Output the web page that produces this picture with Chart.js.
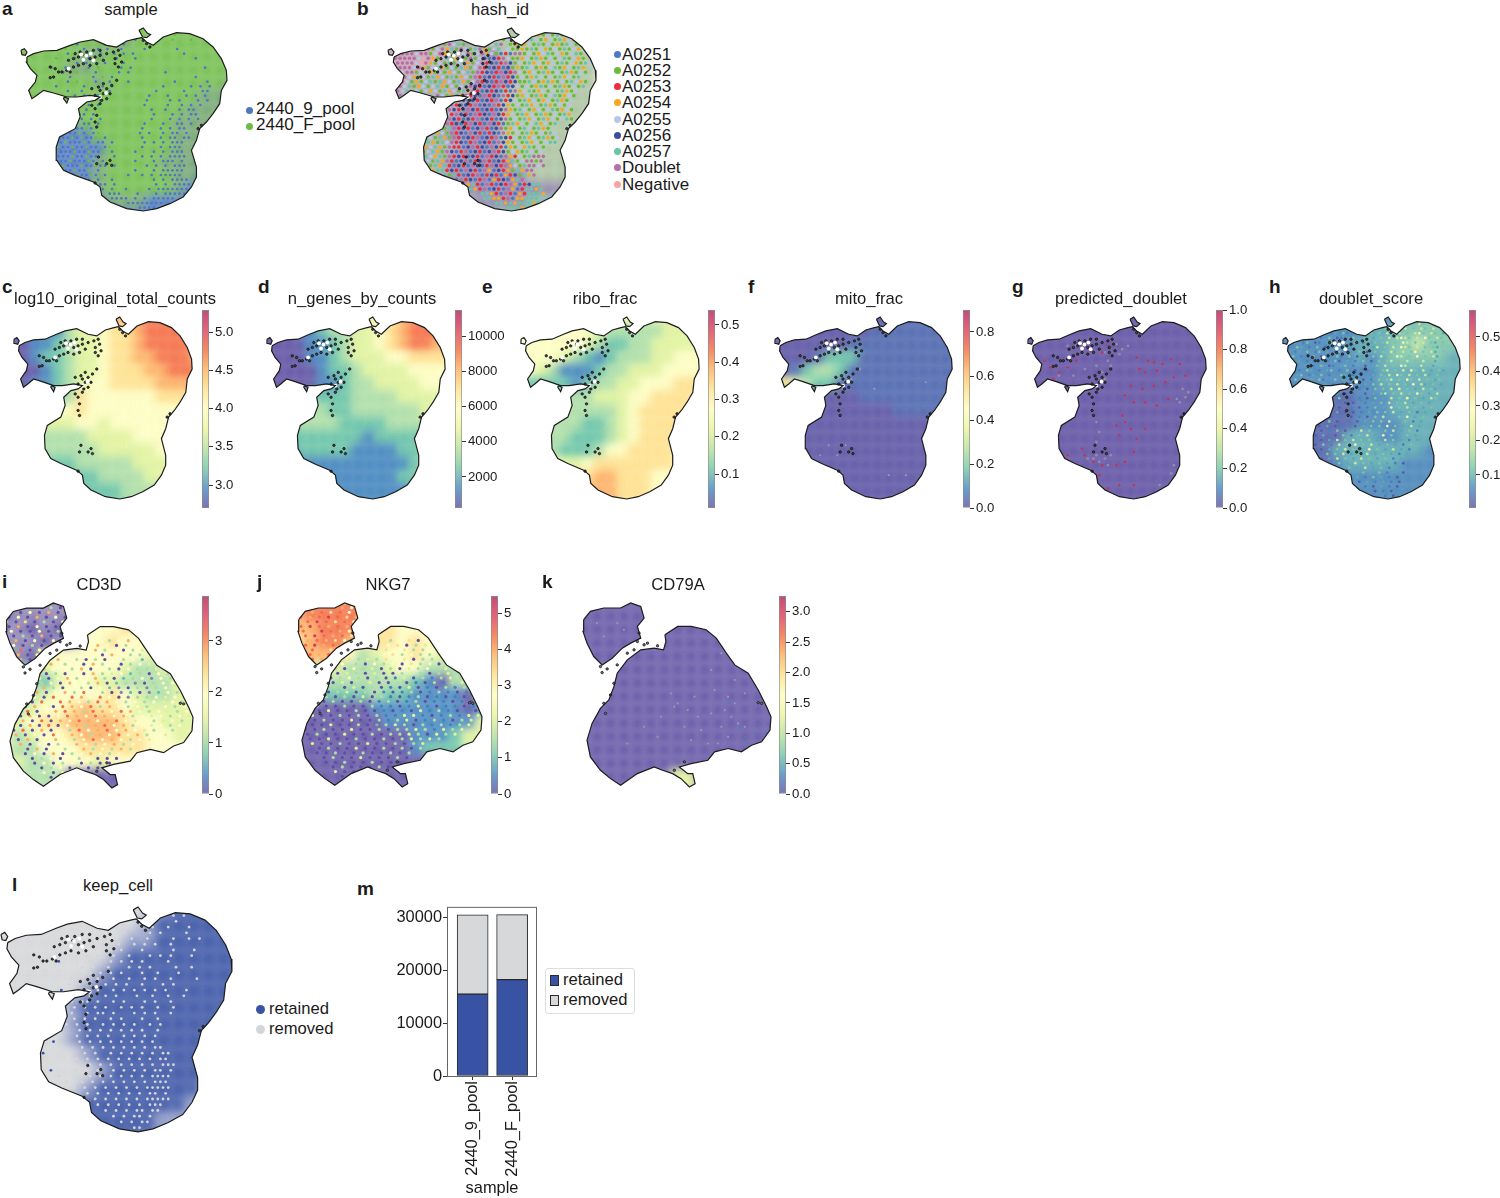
<!DOCTYPE html>
<html>
<head>
<meta charset="utf-8">
<script src="https://cdn.jsdelivr.net/npm/chart.js@4"></script>
<style>
body { margin: 0; background: #fff; }
#fig { position: relative; width: 1500px; height: 1198px; overflow: hidden; font-family: "Liberation Sans", Arial, sans-serif; color: #1a1a1a; }
#fig canvas { position: absolute; }
.txt { position: absolute; white-space: nowrap; }
.dot { position: absolute; border-radius: 50%; }
</style>
</head>
<body>
<div id="fig"></div>
<script>
// palettes
const spectral = ['#5e4fa2', '#4083bd', '#66c2a5', '#abdda4', '#dff29a', '#fdfdc0', '#fee08b', '#fdae61', '#f46d43', '#d53e4f'];
const mitoPalette = ['#5a52a3', '#4b64ad', '#66c2a5', '#abdda4', '#e0f3a0', '#fdfdc0', '#fee08b'];
const scorePalette = ['#4f5fa8', '#4583b8', '#5aa8b0', '#7cc4a8', '#c8e8a0', '#f5f5b0'];
const cd3Palette = ['#5e4fa2', '#8a80b0', '#66c2a5', '#abdda4', '#dff29a', '#fdfdc0', '#fee08b', '#fdae61', '#f46d43', '#d53e4f'];
const sampleColors = ['#4d77bf', '#6dbb45'];
const sampleField = ['#4d77bf', '#6fa36c', '#6dbb45'];
const keepColors = ['#d4d5d7', '#8f9bc8', '#3953a4'];
const hashColors = ['#4e79c0', '#6cbb3c', '#ee2c3c', '#f7a823', '#b8c6e6', '#3c4d9f', '#6cc4a8', '#b86ea6', '#f6a5a5'];
const hashField = ['#a9a2b4', '#9ea8a6', '#8f7fa8', '#a8c09c', '#c4a0b0', '#7fb8a4', '#b0b4a8'];

// shape of the first embedding
const outlineA = [[80,170],[100,160],[130,152],[170,150],[210,135],[240,125],[280,118],[320,135],[350,140],[380,122],[410,115],[425,112],[440,125],[460,135],[490,110],[530,97],[570,100],[610,115],[640,140],[665,175],[680,210],[682,240],[665,270],[660,310],[640,340],[620,365],[600,385],[590,420],[575,450],[590,500],[590,530],[575,560],[550,590],[510,610],[470,625],[430,632],[380,625],[330,605],[305,585],[300,560],[280,545],[225,525],[190,510],[170,480],[168,440],[178,410],[225,385],[240,350],[235,325],[260,305],[285,300],[300,290],[270,285],[230,290],[200,290],[160,278],[130,270],[110,285],[95,295],[85,270],[105,245],[110,225],[90,205],[78,185]];
const isletsA = [
  [[62,150],[72,145],[80,155],[75,165],[65,163]],
  [[417,90],[430,83],[442,98],[452,103],[440,112],[428,110]],
  [[192,290],[205,295],[200,308],[190,295]]
];
const gapsA = [[150,200],[165,205],[175,215],[160,230],[150,232],[185,215],[200,210],[210,215],[205,180],[220,175],[235,170],[255,165],[270,175],[285,170],[300,165],[320,160],[340,155],[355,150],[360,165],[345,175],[300,150],[280,150],[260,155],[240,155],[225,160],[250,190],[235,195],[220,200],[270,195],[290,190],[310,180],[345,190],[365,185],[355,200],[440,130],[450,140],[430,120],[275,265],[285,285],[300,270],[310,280],[320,265],[330,280],[320,295],[305,300],[335,255],[350,240],[295,260],[310,250],[275,315],[285,325],[290,345],[285,365],[290,380],[300,310],[295,470],[320,490],[330,480],[290,490],[335,495],[285,548],[605,375],[595,385]];
const holesA = [[243,162],[258,166],[272,160],[250,178],[280,180],[205,205],[318,278],[300,290]];

// shape of the second embedding
const outlineB = [[262,195],[300,170],[340,170],[385,180],[415,205],[445,250],[470,285],[510,310],[540,360],[565,410],[578,440],[575,480],[550,515],[520,525],[490,545],[450,535],[410,545],[390,570],[340,580],[305,590],[330,610],[345,610],[352,640],[335,650],[310,625],[285,610],[255,600],[230,590],[180,610],[130,645],[100,625],[70,600],[40,560],[30,510],[45,460],[70,415],[95,390],[110,350],[120,310],[150,270],[190,240],[230,235],[258,240],[265,215]];
const isletsB = [[[20,150],[40,125],[80,115],[130,115],[160,100],[190,110],[200,145],[180,170],[190,205],[160,220],[135,235],[105,265],[75,285],[50,260],[30,220],[18,185]]];
const gapsB = [[150,250],[170,240],[210,220],[240,228],[120,285],[90,297],[75,308],[110,340],[100,375],[80,400],[85,430],[320,575],[290,600],[550,400],[540,398],[200,225],[185,190],[180,215],[70,290]];
const holesB = [];

// coarse colour fields, one digit per palette entry, rows top to bottom
const fieldC = ['66666666677888888','00011344566788888','00112344566788887','00122344566778887','00012344566677888','00112345566667777','11112365555556666','55555565555555555','33344455455555555','33333334444555555','33333333444445555','22222233333444455','22222222333344444','22222222223333344','22222222223333344'];
const fieldD = ['33333333445678888','00011233445678887','00001123445678877','00001123444556666','00000122344445555','00000112334444555','11222222333344444','33333322333333444','22233332222333344','11222222212222233','11122222111122334','11111111111112344','00011111111122333','00000011111112233','00000011111112233'];
const fieldE = ['55555555554444444','55555554333334444','55555543223344444','55554321233344555','55431112334445555','32222123344555666','33333334445566666','33333333345666666','33333322345666666','33333222345666666','33332223556666566','44444456666666555','55555667766655555','77777777766655555','77777777766655555'];
const fieldF = ['00000000000111111','00000000011111111','00000001111111111','00001222111111111','11123321111111111','56432211111111111','00000000111111111','00000000000111111','00000000000000011','00000000000000011','00000000000000001','00000000000000000','00000000000000000','00000000000000000','00000000000000000'];
const fieldG = ['00000000000000000','00000000000000000','00000000000000000','00000000000000000','00000000000000000','00000000000000000','00000000000000000','00000000000000000','00000000000000000','00000000000000000','00000000000000000','00000000000000000','00000000000000000','00000000000000000','00000000000000000'];
const fieldH = ['11111111111223333','11111111222333333','11111112223343333','11111112123333322','11111111122222222','11111111122222222','00000001112222221','00000001112222211','00000001111222211','00000022211222111','00000222222221111','00000122222111111','00000111111111111','00000011111111100','00000011111111100'];
const fieldA = ['22222222222222222','22222221122222222','22222112222222222','22221122222222222','22222212222222221','22222222222222111','11111222222221111','11111222222211111','00000022222211111','00000002222211111','00000012222111011','00000012222211000','00000112222210000','00000001110000000','00000000000000000'];
const fieldL = ['00000000000122222','00000000001222222','00000000011222222','00000000122222222','00000001222222222','00000012222222222','00000122222222222','00000122222222222','00000122222222222','00000012222222222','00000001222222211','00000012222222110','00000122222221100','00001122222111000','00001122222111000'];
const fieldB = ['1111111113333333','1111111333333333','4444400023333333','4444110022333333','4411100222333333','1111100223333333','1111102223333333','1111122223333333','1111122223333333','1111102223333333','1111122222333333','1111122222233334','5555552222222234','5555555222255555','5555555555555555'];
const fieldI = ['111111111111111','011111555555555','110101555665444','111011556554444','210455555554444','321455555433444','333245544333344','333455556543344','334556766544444','445667777655444','534556777665544','433555666665555','343355545555555','233330000000000','333330000000000'];
const fieldJ = ['888888877755555','788888875555555','778887665555544','678876665654433','877753455654333','544433345533333','443333333210333','222222322111102','000000111111101','000000011111114','000000000111244','000000000122244','000000000000000','000000000000000','000000000000000'];
const fieldK = ['000000000000000','000000000000000','000000000000000','000000000000000','000000000000000','000000000000000','000000000000000','000000000000000','000000000000000','000000000000000','000000000000000','000000000000000','000000000000000','000000044000000','000000044000000'];

// single cells in front of the fields, '.' means nothing there
const specksB = [
'................................141614',
'...........................4.1431416174',
'...........7164....6142.14341164134163416',
'...........17461...41467.131341614131641',
'....74777147361741673146.4113161431416143',
'..777477147316147147341020771413461431461',
'.77777487314613417145052741134163141461431',
'.777748731416146314725027514163413416143164',
'..7774731463141631472052051316413146134163',
'..4771463141341461725027527413416314163141',
'...74314163416134172052072514136414163416',
'..7413146163416314725027525116413631416431',
'..7461341463141467520527205414136141631416',
'.746341434163416372052502073461341416314',
'.4783164..741363725072507251341631461341',
'...........3172505205270254163413416314',
'...........4172052705072531416341631414',
'...........3752075205205731641341461341',
'...........1427520725075234163416314163',
'...........3752052705205714163416341461',
'...........4725027520752016341463416',
'.........1316725205720571341641631',
'.......31634172507520250731416314164',
'......314163172052705270524163416314',
'.....3416316472502705207531416341466',
'.....1434631722057250752031436141',
'.....6314631750270520572514316414',
'.....3164361725205207250732416777',
'.....6634163720570257205236147717',
'.....6661636205207502752734167747',
'......6663662520752073052316377',
'.........6661620527025203251637',
'............62072502703250367',
'................3620720527302566',
'.................6327052073026636',
'...................66320720326663',
'....................663327033666',
'......................6636366636',
'.........................66636',
'.........................636'
];
const specksH = [
'................................3.4.3',
'...........................3.4.3.43.4',
'...........2.1.3....2.3..3.4.34.3.43.4.3',
'.........3.12.31....23.3.4.54.3.453.43.2',
'....1.23.1.3.01.23..3.2.3.4.4543.4.53.43.',
'..2.13.01.23.1.2.3.1.23.34.3.54.3.4.32.3',
'.1.32.1.3.0.21.3.2..3.24.3.4.543.4.3.32.',
'..12.3.13.2.03.1.23.0.3.3.43.4.35.3.42.3',
'..3.1.23.0.2.31.3.02..3.4.3.54.3.5.3.42.',
'...2.1.32.1.30.2.1.3.0.3.34.3.4.3.43.2.3',
'..31.2.1.3.01.23.1..0.23.4.3.54.3.4.32.3',
'...1.32.1.23.1.3.0..1.2.34.3.4.53.4.2.32',
'.1.23.12.3.1..32.1.0..2.3.4.53.4.3.42.3.',
'..3.1.2.31..3.2.13.0.1.3.34.3.53.4.3.23.',
'.2.31.3...2.1.3.0...2.3.4.3.4.3.5.42.3.2',
'...........2.13.0.1.0.3.3.4.5.3.2.4.32.',
'...........3.2.0.1..0.2.34.3.4.3.53.2.4',
'...........1.3.0..1.0.3.2.4.3.5.3.2.43.',
'...........2.1.0.0..1.2.3.4.3.4.2.3.2',
'...........3.0..1.0.1.3.2.5.3.4.3.2.3',
'...........1.2.0.0.1.2.3.3.4.2.3.1.2',
'.........3.0.1..0.1.0.3.4.2.3.5.2.3',
'.......2.1.3.0..1.0.2.3.3.4.2.3.1.2',
'......1.0.2.0.1..0.2.3.3.5.3.2.4.2.',
'.....0.1.0.1.3.0.2.4.3.2.3.4.2.3.1',
'.....1.0.2..0.3.1.3.4.2.5.3.2.3.2',
'.....0.1.0.2.4.3.4.3.3.2.4.3.2.1.2',
'.....1.0.3.1.4.3.5.3.4.2.3.2.1.3.',
'.....0.1.0.2.3.4.3.2.5.3.2.4.2.1',
'......0.1.3.3.4.2.3.4.2.3.2.1.2.',
'.......1.0.2.4.3.2.4.3.2.3.1.2',
'.........0.1.3.2.4.3.2.3.2.1.0',
'............1.2.3.2.4.2.3.1.2',
'...............0.2.3.2.3.1.2.0',
'................1.2.1.3.2.1.0',
'..................0.2.1.2.1.0.',
'....................1.0.2.1.0',
'......................0.1.0.',
'.........................1.0',
'.........................0'
];
const specksA = [
'..................................1',
'.............................1..1.',
'....................0...0..0....1...1',
'...........0.....0...0.............',
'......0..1...0..0.0..0....0......0..',
'.........0....1.0..0.0.0..........0',
'.......1...0..0.1...0...0............0.',
'...........0.0...0.1.0.....................',
'......0..0....0.1....0.0...............0.',
'........0..1...0....0.0.......0..........',
'..........0....0.1.0.................0...',
'.........0.1...0..0...0.........0......0.',
'.......0.....0...0.0..........0.....0.0.0',
'.........0..0.....0.........0.....0...00',
'...........0.0..0..........0...0...0.0.0',
'...........0.0..0.........0....0.0...0.0',
'............0.0.0.........0....0..0.0.0',
'.............0.............0..0..0.00.',
'............00.0............0...0.0.00',
'............0.0.0..........0...0.0.0.0',
'...........0.00.0.........0...0..00.0',
'.........0100101.........0...0.0.00',
'.......0010010101........0.0..0.00.0',
'.....00100101001.0.......0...0.00.00',
'.....0100100010100.0......0.0.0.000',
'.....00100100100.01......0...0.000',
'.....0010001001001.0....0...0.0.000',
'.....01000100100...0.....0.0.0.0000',
'......0100100010.0......0...0.000.0',
'......001000100100.0......0.0.0.000',
'.......01001001.0.......0...0.00000',
'.........0010010.0....0..0.0.00000',
'.............00.0..0........0.0.0000',
'................00.0........0.0.0000',
'................00.0..0....0.0000000',
'..................000...0...0.00000',
'...................0000.0.0.00000',
'......................00000000',
'.........................0000',
'.........................00'
];
const specksL = [
'..................................0',
'.............................0..0.0',
'...................2..0....0.....0',
'..........................0.0..0...0',
'....................0..0....0.0....0..',
'...................0.0..0..0....0..0.0',
'...................0..0..0.0.0..0....',
'.................0..0.0...0.....0...0',
'................0.0..0..0...0.0.0...0',
'..........2.....0...0.0.0.0....0..',
'...............0.0..0...0.0.0....0..0',
'..............0.0.0.0.0...0..0...0',
'.............0..0.0..0..0..0.0..0....0',
'............0.0.0..0.0.0..0...0.0..',
'...........2..0.0.0..0.0.0.0.0.0...0',
'............0...0..0.0...0..0..0..0',
'...........2.0.00.0..0.0...0.0..0..',
'...........0.0.0.0.0..0.0.0..0..0',
'...........0.0..0.00.0...0.0.0..0',
'...........0.0.0.0..0.0...0..0.',
'............0.0.0..0.0.0.0..0.0',
'..............0.0.0.0.0.0.0..0',
'..............0.0.0.0..0.0.0.0',
'.........2....0.0.0.0.0.0.0.0',
'......2........0.0.0.0.0.0.0.00',
'.......2.......0.0..0.0.0.0.0.00',
'..............0.0.0.0.0.0.0.0.00',
'..............0.0.0.0.0.0.0.0.000',
'.........2....0.0.0..0.0.0.0.00.0',
'..........0...0.0.0.0.0.0.0.0000',
'............0..0.0.0.0.0.0.0.000',
'...........0.0.0.0.0.0.0.0.00000',
'................0.0.0.0.0.0.00.0',
'.................0.0.0.0.0.00000',
'..................0.0.0.0.0.000',
'...................0.0.0.00.00.',
'.....................0.0.00.0',
'......................0.0.00',
'.........................00',
'..........................0'
];
const specksI = [
'..........07',
'.......0.3.06.3',
'...0.5.0.7.0.3.0',
'0.5.0.7.0.5.0',
'5.0.6.0.3.0.5.0',
'0.7.0.5.0.0.6.',
'.5.0.0.5.0.3.0',
'.0.3.0.7.0.0.5.',
'0.7.0.5.0.5.0.3.....5.3.5.7.5.3',
'.5.0.3.0.0.7.......7.5.0.3.5.7.5.3',
'.0.8.0.5.0.5.......7.3.5.0.3.4.5.3.',
'..7.0.5.0.3.......5.0.7.5.3.3.5.2.5',
'...7.0.5.0.7.5.3.0.3.0.5.3.5.2.4.3.',
'.....5.0.7..3.5.0.7.3.5.0.3.5.4.2.',
'......0.7.5.5.3.7.0.5.3.0.5.3.3.4.5.3.',
'......5.0.3.0.5.0.7.3.4.5.2.3.0.5.3.3.5',
'.....0.5.0.5.7.3.5.7.3.0.2.3.5.1.5.3.',
'.....0.3.5.0.7.5.3.7.0.2.3.1.0.3.5.5.4',
'....5.0.7.3.0.5.3.0.5.2.1.0.3.1.3.5.4.5.',
'....0.7.0.5.7.3.8.5.3.0.1.2.0.1.2.5.3.4.',
'....0.5.0.8.5.8.7.5.8.5.0.1.3.3.5.4.5.3.',
'...7.0.8.5.8.7.5.3.8.7.5.3.5.3.5.4.5.3.5',
'..8.0.7.5.0.8.7.5.8.3.7.5.3.5.3.4.5.3.5.',
'..0.8.0.5.7.8.7.3.8.7.5.8.7.5.3.5.4.3.5.',
'.8.0.7.0.0.5.8.7.5.8.7.5.7.3.5.4.5.3.5.4',
'.0.7.0.8.0.7.5.8.7.5.7.8.5.4.5.3.4.5.3.',
'.8.0.7.0.8.0.5.7.3.7.8.5.7.3.5.4.5.3.5.',
'.0.8.0.7.0.5.3.8.5.7.8.5.7.5.4.3.5.3.',
'..7.0.5.0.8.5.7.5.3.7.5.8.5.7.3.5.4.',
'..0.7.0.5.7.5.3.5.8.5.7.5.3.5.4.5.',
'...7.0.5.0.3.5.7.5.3.5.7.3.5.',
'....0.7.0.5.3.5.7.3.5.3.7.3',
'....0.5.0.7.0.3.5.7.5.3.5',
'.....0.3.5.0.5.3.5.0.0.0.',
'......0.5.0.3.5.0.3.0.0',
'.......0.3.5.0.3.0.0.0.0',
'........5.0.5.0.0.....0.0.0.',
'.........0.3.0.........0.0',
'..........0...............0.0',
'..........0...............0'
];
const specksJ = [
'..........58',
'.......8.7.56.5',
'...7.8.6.8.5.6.5',
'8.7.8.9.8.6.7',
'7.8.9.8.6.8.5.7',
'8.9.8.7.8.7.6.',
'.8.7.9.8.7.5.6',
'.8.9.8.7.8.6.5.',
'8.7.8.7.6.5.7.5.....3.5.6.0.5.3',
'.8.9.7.8.6.5.......5.6.0.3.4.5.3.4',
'.7.8.7.6.5.6.......6.5.4.3.3.5.3.4.',
'..8.7.8.6.5.......5.6.3.5.3.3.4.3.5',
'...8.7.6.5.6.3.4.3.6.5.4.0.3.3.4.3.',
'.....5.6.5..3.0.5.3.5.0.4.3.5.0.3.',
'......5.3.0.5.3.4.0.3.0.4.3.5.3.4.3.4.',
'......3.0.4.3.0.4.0.0.3.4.3.0.3.4.3.4.3',
'.....4.0.3.5.3.0.3.0.1.4.0.3.1.3.4.3.',
'.....3.0.4.0.3.4.0.0.3.0.1.0.3.1.3.4.3.4',
'....5.0.3.0.4.0.3.0.1.0.4.0.1.0.3.1.3.3.',
'....3.0.3.4.0.3.0.1.0.1.3.0.1.3.1.0.1.3.',
'....0.3.0.3.0.4.0.3.1.0.1.3.0.1.0.1.0.3.',
'...0.0.3.0.0.3.0.1.3.0.1.3.0.1.1.0.1.0.4',
'..0.3.0.0.3.0.0.3.1.1.0.1.4.1.0.1.1.0.1.',
'..0.0.4.0.0.3.0.0.1.0.1.0.4.1.3.1.0.1.0.4',
'.0.4.0.0.3.0.3.0.3.1.1.4.4.1.0.1.3.1.4.4',
'.0.0.3.0.0.4.0.0.3.1.3.4.0.1.3.1.0.3.4.',
'.3.0.0.4.0.0.3.0.2.3.4.3.0.3.1.3.1.3.4.',
'.0.0.3.0.0.4.0.0.3.0.3.3.4.3.1.4.3.4.',
'..0.3.0.0.4.0.0.3.0.3.3.4.3.0.4.3.4.',
'..0.0.4.0.0.3.0.0.3.0.3.4.3.4.3.',
'...4.0.0.3.0.0.4.0.0.3.0.3.4.',
'....0.3.0.0.4.0.0.3.0.3.0.3',
'....0.0.3.0.0.3.0.0.3.0.3',
'.....0.3.0.0.4.0.0.0.3.0.',
'......0.0.3.0.0.3.0.0.0',
'.......0.3.0.0.0.3.0.0.0',
'........4.0.0.0.0.....0.0.0.',
'.........0.3.0.........0.0',
'..........0...............0.0',
'..........0...............0'
];

const doubletPoints = [[480,215],[500,220],[530,225],[510,245],[470,250],[440,205],[450,240],[560,210],[590,225],[610,260],[570,265],[540,280],[500,290],[460,300],[420,290],[400,320],[430,340],[470,340],[510,350],[550,330],[390,380],[400,400],[370,410],[420,420],[380,440],[440,450],[470,420],[430,490],[400,520],[370,530],[320,530],[310,560],[290,520],[260,500],[250,480],[230,540],[200,500],[430,590],[380,590],[340,600],[120,215],[140,235],[170,250],[200,235],[230,215],[280,185],[320,190],[340,170],[150,270]];
const greyBand = [[200,170],[230,170],[330,190],[350,230],[330,270],[300,290],[390,180],[410,170],[300,400],[310,430],[300,460],[330,510],[350,500],[300,500],[270,510],[600,300],[620,310],[590,340],[600,550],[520,590],[170,260],[220,260],[260,240],[300,230],[340,215],[320,250],[310,520],[340,530],[290,510],[370,165],[380,195],[580,330],[570,530],[560,555],[610,325]];
const greyK = [[300,400],[330,420],[360,440],[400,430],[430,470],[460,440],[480,460],[250,440],[370,480],[410,360],[450,380],[470,330],[500,370],[430,250],[460,230],[400,300],[420,520],[390,520],[450,500],[500,470],[60,160],[80,200],[120,160],[140,180],[280,370],[350,380],[290,410],[320,470],[240,500],[200,470],[150,520],[340,510],[440,420],[470,400]];
const tealK = [[500,500],[530,490],[550,470],[510,520],[455,400],[485,470],[560,490]];
const greyF = [[300,300],[330,270],[200,320],[360,240],[520,560],[280,500],[310,470],[410,300],[590,280],[250,470],[220,500],[460,560]];

// colour bars: axis limits and ticks
const rangeC = [2.70, 5.29], ticksC = [3, 3.5, 4, 4.5, 5];
const rangeD = [239, 11477], ticksD = [2000, 4000, 6000, 8000, 10000];
const rangeE = [0.009, 0.54], ticksE = [0.1, 0.2, 0.3, 0.4, 0.5];
const rangeF = [0, 0.9], ticksF = [0, 0.2, 0.4, 0.6, 0.8];
const rangeG = [0, 1], ticksG = [0, 0.2, 0.4, 0.6, 0.8, 1];
const rangeH = [0.004, 0.578], ticksH = [0.1, 0.2, 0.3, 0.4, 0.5];
const rangeI = [0, 3.88], ticksI = [0, 1, 2, 3];
const rangeJ = [0, 5.47], ticksJ = [0, 1, 2, 3, 4, 5];
const rangeK = [0, 3.26], ticksK = [0, 0.5, 1, 1.5, 2, 2.5, 3];

// legends
const sampleNames = ['2440_9_pool', '2440_F_pool'];
const hashNames = ['A0251', 'A0252', 'A0253', 'A0254', 'A0255', 'A0256', 'A0257', 'Doublet', 'Negative'];
const keepNames = ['retained', 'removed'];

// stacked bars of panel m
const barSamples = ['2440_9_pool', '2440_F_pool'];
const retainedCounts = [15500, 18250];
const removedCounts = [15000, 12300];
const barTicks = [0, 10000, 20000, 30000];

Chart.defaults.font.family = '"Liberation Sans", Arial, sans-serif';
Chart.defaults.animation = false;
Chart.defaults.devicePixelRatio = 1;

const fig = document.getElementById('fig');

function addCanvas(left, top, w, h) {
  const c = document.createElement('canvas');
  c.width = w; c.height = h;
  c.style.left = left + 'px'; c.style.top = top + 'px';
  c.style.width = w + 'px'; c.style.height = h + 'px';
  fig.appendChild(c);
  return c.getContext('2d');
}

function addText(str, x, baseline, size, opts) {
  opts = opts || {};
  const d = document.createElement('div');
  d.className = 'txt';
  d.textContent = str;
  d.style.fontSize = size + 'px';
  d.style.lineHeight = size + 'px';
  d.style.top = (baseline - size * 0.84) + 'px';
  d.style.left = x + 'px';
  if (opts.center) d.style.transform = 'translateX(-50%)';
  if (opts.bold) d.style.fontWeight = 'bold';
  fig.appendChild(d);
}

function addDot(x, y, color, size) {
  const d = document.createElement('div');
  d.className = 'dot';
  d.style.background = color;
  d.style.left = (x - size / 2) + 'px'; d.style.top = (y - size / 2) + 'px';
  d.style.width = size + 'px'; d.style.height = size + 'px';
  fig.appendChild(d);
}

function readCells(rows, x0, y0, step, stagger, palette) {
  const pts = [], cols = [];
  rows.forEach((row, r) => {
    for (let i = 0; i < row.length; i++) {
      if (row[i] === '.') continue;
      pts.push({ x: x0 + i * step + (stagger && r % 2 ? step / 2 : 0), y: y0 + r * step });
      cols.push(palette[+row[i]]);
    }
  });
  return { pts, cols };
}

const toPts = list => list.map(p => ({ x: p[0], y: p[1] }));
const closed = list => toPts(list.concat([list[0]]));

// clips the field and the cells to the embedding outline, the field is also blurred
const shapeClip = {
  id: 'shapeClip',
  beforeDatasetDraw(chart, args) {
    const ds = chart.data.datasets[args.index];
    if (!ds.clipShape) return;
    const ctx = chart.ctx, sx = chart.scales.x, sy = chart.scales.y;
    ctx.save();
    ctx.beginPath();
    ds.clipShape.forEach(poly => {
      poly.forEach((p, i) => {
        const px = sx.getPixelForValue(p[0]), py = sy.getPixelForValue(p[1]);
        if (i) ctx.lineTo(px, py); else ctx.moveTo(px, py);
      });
      ctx.closePath();
    });
    ctx.clip();
    if (ds.blurPx) ctx.filter = 'blur(' + ds.blurPx + 'px)';
  },
  afterDatasetDraw(chart, args) {
    if (chart.data.datasets[args.index].clipShape) chart.ctx.restore();
  }
};

const shapeA = { outline: outlineA, islets: isletsA, gaps: gapsA, holes: holesA, gapFill: '#444', u: [62, 685], v: [83, 635], fx: 60, fy: 90, sx: 70, sy: 90 };
const shapeB = { outline: outlineB, islets: isletsB, gaps: gapsB, holes: holesB, gapFill: '#777', u: [18, 578], v: [100, 650], fx: 20, fy: 100, sx: 20, sy: 100 };

function umap(shape, box, field, palette, specks, extras, speckPalette, speckR) {
  const pad = 6, X0 = box[0], X1 = box[1], Y0 = box[2], Y1 = box[3];
  const ppx = (X1 - X0) / (shape.u[1] - shape.u[0]), ppy = (Y1 - Y0) / (shape.v[1] - shape.v[0]);
  const ctx = addCanvas(X0 - pad, Y0 - pad, X1 - X0 + 2 * pad, Y1 - Y0 + 2 * pad);
  const polys = [shape.outline].concat(shape.islets);
  const datasets = [];
  polys.forEach(p => datasets.push({ data: closed(p), showLine: true, borderColor: '#1c1c1c', borderWidth: 1.2, pointRadius: 0, fill: false, tension: 0 }));
  if (shape.holes.length) datasets.push({ data: toPts(shape.holes), pointRadius: 1.9, pointBackgroundColor: '#fff', pointBorderWidth: 0 });
  datasets.push({ data: toPts(shape.gaps), pointRadius: 1.2, pointBackgroundColor: shape.gapFill, pointBorderColor: '#111', pointBorderWidth: 0.8 });
  (extras || []).forEach(e => datasets.push({ data: toPts(e.list), pointRadius: e.r, pointBackgroundColor: e.color, pointBorderWidth: 0, clipShape: polys }));
  if (specks) {
    const s = readCells(specks, shape.sx, shape.sy, 14, true, speckPalette || palette);
    datasets.push({ data: s.pts, pointRadius: speckR || 1.6, pointBackgroundColor: s.cols, pointBorderWidth: 0, clipShape: polys });
  }
  const f = readCells(field, shape.fx, shape.fy, 40, false, palette);
  const cellPx = 40 * Math.max(ppx, ppy);
  datasets.push({ data: f.pts, pointStyle: 'rect', pointRadius: cellPx * 0.8, pointBackgroundColor: f.cols, pointBorderWidth: 0, clipShape: polys, blurPx: cellPx * 0.36 });
  new Chart(ctx, {
    type: 'scatter',
    data: { datasets },
    plugins: [shapeClip],
    options: {
      responsive: false,
      layout: { padding: 0, autoPadding: false },
      plugins: { legend: { display: false }, tooltip: { enabled: false } },
      scales: {
        x: { display: false, min: shape.u[0] - pad / ppx, max: shape.u[1] + pad / ppx },
        y: { display: false, reverse: true, min: shape.v[0] - pad / ppy, max: shape.v[1] + pad / ppy }
      }
    }
  });
}

function colorbar(left, top, bottom, range, ticks, decimals) {
  const ctx = addCanvas(left, top - 10, 60, bottom - top + 20);
  new Chart(ctx, {
    type: 'bar',
    data: {
      labels: [''],
      datasets: [{
        data: [range],
        barPercentage: 1, categoryPercentage: 1,
        borderColor: '#8c8c8c', borderWidth: 1, borderSkipped: false,
        backgroundColor(c) {
          const a = c.chart.chartArea;
          if (!a) return '#ccc';
          const g = c.chart.ctx.createLinearGradient(0, a.bottom, 0, a.top);
          const stops = ['#7d72b4', '#6a9fcb', '#8fd0b6', '#c3e6ae', '#eef5ae', '#fdfdca', '#fde6a0', '#fcc07c', '#f38a66', '#e2647a', '#bd4f78'];
          stops.forEach((s, i) => g.addColorStop(i / (stops.length - 1), s));
          return g;
        }
      }]
    },
    options: {
      responsive: false,
      layout: { padding: { top: 10, bottom: 10, left: 0, right: 0 } },
      plugins: { legend: { display: false }, tooltip: { enabled: false } },
      scales: {
        x: { display: false },
        y: {
          position: 'right', min: range[0], max: range[1],
          afterFit(s) { s.width = 53; },
          afterBuildTicks(s) { s.ticks = ticks.map(v => ({ value: v })); },
          border: { display: false },
          grid: { drawOnChartArea: false, tickLength: 4, tickColor: '#333', tickWidth: 1 },
          ticks: { color: '#1a1a1a', padding: 2, autoSkip: false, font: { size: 13.2 }, callback: v => v.toFixed(decimals) }
        }
      }
    }
  });
}

// row 1
umap(shapeA, [21, 228, 28, 212], fieldA, sampleField, specksA, null, sampleColors, 1.3);
umap(shapeA, [388, 597, 28, 212], fieldB, hashField, specksB, null, hashColors, 1.8);
// row 2
umap(shapeA, [14, 193, 317, 500], fieldC, spectral);
umap(shapeA, [267, 446, 317, 500], fieldD, spectral);
umap(shapeA, [521, 700, 317, 500], fieldE, spectral);
umap(shapeA, [775, 953, 317, 500], fieldF, mitoPalette, null, [{ list: greyF, r: 1.1, color: '#9a96b0' }]);
umap(shapeA, [1028, 1207, 317, 500], fieldG, spectral, null, [{ list: doubletPoints, r: 1.2, color: '#c9304e' }, { list: greyBand, r: 1.4, color: '#8f8ba8' }]);
umap(shapeA, [1283, 1461, 317, 500], fieldH, scorePalette, specksH, null, scorePalette, 1.35);
// row 3
umap(shapeB, [6, 193, 603, 788], fieldI, cd3Palette, specksI);
umap(shapeB, [298, 482, 603, 787], fieldJ, spectral, specksJ);
umap(shapeB, [583, 771, 603, 787], fieldK, spectral, null, [{ list: tealK, r: 1.1, color: '#4083bd' }, { list: greyK, r: 1.1, color: '#9a96b0' }]);
// row 4
umap(shapeA, [1, 233, 907, 1133], fieldL, keepColors, specksL, null, keepColors, 1.4);

colorbar(202, 310, 508, rangeC, ticksC, 1);
colorbar(455, 310, 508, rangeD, ticksD, 0);
colorbar(708, 310, 508, rangeE, ticksE, 1);
colorbar(963, 310, 508, rangeF, ticksF, 1);
colorbar(1216, 310, 508, rangeG, ticksG, 1);
colorbar(1469, 310, 508, rangeH, ticksH, 1);
colorbar(202, 596, 794, rangeI, ticksI, 0);
colorbar(491, 596, 794, rangeJ, ticksJ, 0);
colorbar(779, 596, 794, rangeK, ticksK, 1);

// panel m
new Chart(addCanvas(396, 896, 141, 302), {
  type: 'bar',
  data: {
    datasets: [
      { label: 'retained', data: retainedCounts.map((v, i) => ({ x: i, y: v })), backgroundColor: '#3953a4', borderColor: '#2a2a2a', borderWidth: 1, barThickness: 31, borderSkipped: false },
      { label: 'removed', data: removedCounts.map((v, i) => ({ x: i, y: v })), backgroundColor: '#d6d8da', borderColor: '#2a2a2a', borderWidth: 1, barThickness: 31, borderSkipped: false }
    ]
  },
  plugins: [{
    id: 'frame',
    afterDraw(chart) {
      const a = chart.chartArea, c = chart.ctx;
      c.save(); c.strokeStyle = '#666'; c.lineWidth = 1;
      c.strokeRect(a.left + 0.5, a.top + 0.5, a.width - 1, a.height);
      c.restore();
    }
  }],
  options: {
    responsive: false,
    layout: { padding: { top: 10, left: 0, right: 0, bottom: 0 } },
    plugins: { legend: { display: false }, tooltip: { enabled: false } },
    scales: {
      x: {
        type: 'linear', stacked: true, min: -0.65, max: 1.63, offset: false,
        afterFit(s) { s.height = 122; },
        afterBuildTicks(s) { s.ticks = barSamples.map((v, i) => ({ value: i })); },
        border: { display: false },
        grid: { offset: false, drawOnChartArea: false, tickLength: 4, tickColor: '#333' },
        ticks: { color: '#1a1a1a', autoSkip: false, maxRotation: 90, minRotation: 90, padding: 1, font: { size: 16.4 }, callback: v => barSamples[v] },
        title: { display: true, text: 'sample', color: '#1a1a1a', padding: 0, font: { size: 16.4 } }
      },
      y: {
        stacked: true, min: 0, max: 32015,
        afterFit(s) { s.width = 51; },
        afterBuildTicks(s) { s.ticks = barTicks.map(v => ({ value: v })); },
        border: { display: false },
        grid: { drawOnChartArea: false, tickLength: 4, tickColor: '#333' },
        ticks: { color: '#1a1a1a', padding: 1, font: { size: 16.4 }, callback: v => String(v) }
      }
    }
  }
});

// legend box of panel m
const mBox = document.createElement('div');
mBox.style.cssText = 'position:absolute;left:545px;top:968px;width:88px;height:44px;border:1px solid #ddd;border-radius:3px;background:#fff;';
fig.appendChild(mBox);
[['#3953a4', 975], ['#d6d8da', 995]].forEach(s => {
  const d = document.createElement('div');
  d.style.cssText = 'position:absolute;left:550px;top:' + s[1] + 'px;width:7px;height:9px;border:1px solid #2a2a2a;background:' + s[0];
  fig.appendChild(d);
});
addText('retained', 563, 986, 16.6);
addText('removed', 563, 1006, 16.6);

// panel letters
[['a', 2, 15], ['b', 357, 15], ['c', 2, 293], ['d', 258, 293], ['e', 482, 293], ['f', 748, 293], ['g', 1012, 293], ['h', 1269, 293], ['i', 2, 588], ['j', 257, 588], ['k', 542, 588], ['l', 12, 891], ['m', 357, 895]]
  .forEach(l => addText(l[0], l[1], l[2], 19, { bold: true }));

// titles
[['sample', 131, 16], ['hash_id', 500, 16], ['log10_original_total_counts', 115, 305], ['n_genes_by_counts', 362, 305], ['ribo_frac', 605, 305], ['mito_frac', 869, 305], ['predicted_doublet', 1121, 305], ['doublet_score', 1371, 305], ['CD3D', 99, 591], ['NKG7', 388, 591], ['CD79A', 678, 591], ['keep_cell', 118, 892]]
  .forEach(t => addText(t[0], t[1], t[2], 16.6, { center: true }));

// legends
sampleNames.forEach((n, i) => {
  addDot(249, 110.5 + i * 16.2, sampleColors[i], 7);
  addText(n, 256, 114 + i * 16.2, 17);
});
hashNames.forEach((n, i) => {
  addDot(617.5, 54 + i * 16.25, hashColors[i], 7);
  addText(n, 622, 60 + i * 16.25, 17);
});
keepNames.forEach((n, i) => {
  addDot(260, 1009 + i * 20.3, keepColors[i === 0 ? 2 : 0], 9);
  addText(n, 269, 1015 + i * 20.3, 16.6);
});
</script>
</body>
</html>
